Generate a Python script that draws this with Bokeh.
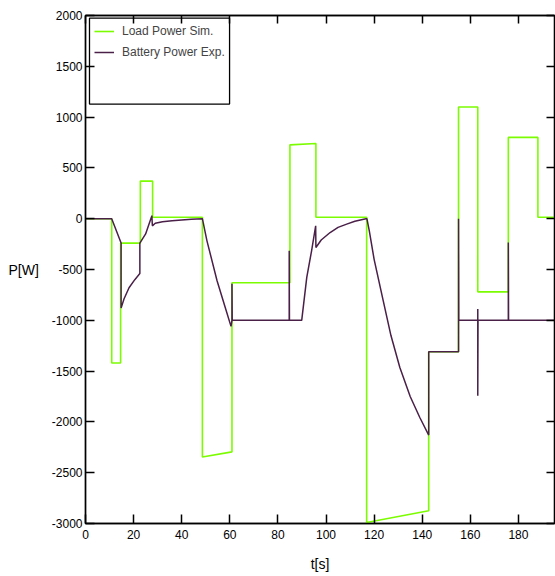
from bokeh.plotting import figure
from bokeh.models import (Range1d, LinearAxis, FixedTicker, Legend, LegendItem, BoxAnnotation,
                          PrintfTickFormatter)
from bokeh.embed import file_html
from bokeh.resources import INLINE

# ---- data ----
load_t = [0, 10.9, 10.9, 14.6, 14.6, 22.8, 22.8, 27.9, 27.9, 48.6, 48.6, 60.9, 60.9,
          85.0, 85.0, 95.8, 95.8, 116.9, 116.9, 142.7, 142.7, 155.1, 155.1, 163.1,
          163.1, 175.8, 175.8, 188.1, 188.1, 195]
load_p = [0, 0, -1420, -1420, -240, -240, 370, 370, 15, 15, -2345, -2295, -630,
          -630, 727, 740, 15, 15, -2990, -2875, -1310, -1310, 1100, 1100,
          -720, -720, 800, 800, 15, 15]

batt_t = [0, 10.9, 14.8, 14.8, 16.0, 18.1, 20.5, 22.6, 22.6, 25.0, 27.6, 27.8, 29.0,
          32.0, 36.0, 40.0, 44.0, 48.6, 50.5, 54.7, 58.1, 60.5, 60.9, 60.9, 61.0,
          84.7, 84.7, 84.8, 89.9, 92.0, 94.0, 95.7, 95.8, 98.0, 101.7, 105.0, 108.6,
          112.0, 116.6, 117.0, 118.0, 120.0, 123.8, 127.0, 130.7, 135.0, 139.0,
          142.7, 142.7, 155.1, 155.1, 155.2, 163.1, 163.1, 163.1, 163.2, 175.8,
          175.8, 175.9, 195.0]
batt_p = [0, 0, -240, -880, -790, -680, -600, -540, -240, -150, 30, -70, -45,
          -30, -20, -12, -5, 0, -218, -611, -874, -1060, -1000, -640, -1000,
          -1000, -316, -1000, -1000, -578, -316, -70, -283, -210, -136, -85, -53,
          -25, 0, 0, -120, -400, -808, -1150, -1464, -1750, -1957,
          -2130, -1310, -1310, 0, -1000, -1000, -890, -1743, -1000, -1000,
          -234, -1000, -1000]

x_ticks = [0, 20, 40, 60, 80, 100, 120, 140, 160, 180]
y_ticks = [-3000, -2500, -2000, -1500, -1000, -500, 0, 500, 1000, 1500, 2000]

FONT = "Liberation Sans"
GREEN = "#7cfc00"
PURPLE = "#4a2048"

p = figure(width=555, height=576, x_range=Range1d(0, 195), y_range=Range1d(-3000, 2000),
           output_backend="svg", toolbar_location=None,
           min_border_left=85, min_border_right=1, min_border_top=15, min_border_bottom=53,
           x_axis_label="t[s]", y_axis_label="P[W]")

p.grid.visible = False
p.outline_line_color = "black"
p.outline_line_width = 1.3
p.background_fill_color = "white"
p.border_fill_color = "white"

g = p.line(load_t, load_p, line_color=GREEN, line_width=1.6)
b = p.line(batt_t, batt_p, line_color=PURPLE, line_width=1.5)

for ax in (p.xaxis[0], p.yaxis[0]):
    ax.major_tick_in = 9
    ax.major_tick_out = 0
    ax.minor_tick_in = 0
    ax.minor_tick_out = 0
    ax.axis_line_color = "black"
    ax.axis_line_width = 1.5
    ax.major_tick_line_width = 1.5
    ax.major_label_text_font = FONT
    ax.major_label_text_font_size = "12px"
    ax.major_label_text_color = "black"
    ax.axis_label_text_font = FONT
    ax.axis_label_text_font_size = "14px"
    ax.axis_label_text_font_style = "normal"
    ax.axis_label_text_color = "black"
    ax.formatter = PrintfTickFormatter(format="%d")

p.xaxis[0].ticker = FixedTicker(ticks=x_ticks)
p.yaxis[0].ticker = FixedTicker(ticks=y_ticks)
p.xaxis[0].major_label_standoff = 6
p.xaxis[0].axis_label_standoff = 14
p.yaxis[0].major_label_standoff = 3
p.yaxis[0].axis_label_standoff = 10
p.yaxis[0].axis_label_orientation = "horizontal"

top = LinearAxis(ticker=FixedTicker(ticks=x_ticks), major_tick_in=8, major_tick_out=0,
                 minor_tick_in=0, minor_tick_out=0, major_label_text_font_size="0px",
                 major_label_text_color=None,
                 major_label_standoff=0, axis_line_width=1.3, major_tick_line_width=1.5)
right = LinearAxis(ticker=FixedTicker(ticks=y_ticks), major_tick_in=8, major_tick_out=0,
                   minor_tick_in=0, minor_tick_out=0, major_label_text_font_size="0px",
                   major_label_text_color=None,
                   major_label_standoff=0, axis_line_width=1.3, major_tick_line_width=1.5)
p.add_layout(top, "above")
p.add_layout(right, "right")

box = BoxAnnotation(left=1.66, right=59.9, top=1974, bottom=1128,
                    fill_alpha=0, line_color="black", line_alpha=1.0, line_width=1.3)
p.add_layout(box)

legend = Legend(items=[LegendItem(label="Load Power Sim.", renderers=[g]),
                       LegendItem(label="Battery Power Exp.", renderers=[b])],
                location="top_left", margin=0, padding=9, spacing=7,
                label_height=14, glyph_height=14, glyph_width=20, label_standoff=8,
                border_line_alpha=0, background_fill_alpha=0,
                label_text_font=FONT, label_text_font_size="12px")
p.add_layout(legend)

open("out.html", "w").write(file_html(p, INLINE))
